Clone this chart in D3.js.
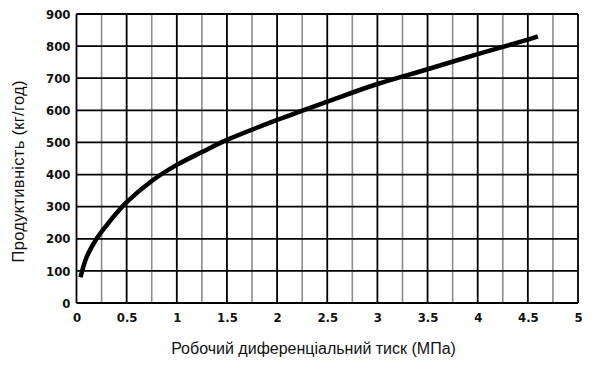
<!DOCTYPE html>
<html><head><meta charset="utf-8">
<script src="https://cdn.jsdelivr.net/npm/d3@7"></script>
<style>body{margin:0;background:#fff}</style>
</head><body>
<svg id="c" width="600" height="367"></svg>
<script>
const pressure = [0.04, 0.1, 0.2, 0.3, 0.4, 0.5, 0.75, 1, 1.25, 1.5, 2, 2.5, 3, 3.5, 4, 4.5, 4.6];
const output = [80, 142, 200, 242, 280, 314, 380, 430, 470, 508, 570, 627, 682, 728, 775, 820, 830];
const xTicks = [0, 0.5, 1, 1.5, 2, 2.5, 3, 3.5, 4, 4.5, 5];
const xMinor = [0.25, 0.75, 1.25, 1.75, 2.25, 2.75, 3.25, 3.75, 4.25, 4.75];
const yTicks = [0, 100, 200, 300, 400, 500, 600, 700, 800, 900];
const xTitle = "Робочий диференціальний тиск (МПа)";
const yTitle = "Продуктивність (кг/год)";

const svg = d3.select("#c");
const L = 76.5, R = 578, T = 14, B = 303;
const x = d3.scaleLinear().domain([0, 5]).range([L, R]);
const y = d3.scaleLinear().domain([0, 900]).range([B, T]);
const tickFont = "'Liberation Sans Narrow','Arial Narrow','DejaVu Sans Condensed',sans-serif";

svg.append("g").selectAll("line").data(xMinor).join("line")
  .attr("x1", d => x(d)).attr("x2", d => x(d)).attr("y1", T).attr("y2", B)
  .attr("stroke", "#8c8c8c").attr("stroke-width", 1.6);
svg.append("g").selectAll("line").data(xTicks).join("line")
  .attr("x1", d => x(d)).attr("x2", d => x(d)).attr("y1", T).attr("y2", B)
  .attr("stroke", "#000").attr("stroke-width", 1.8);
svg.append("g").selectAll("line").data(yTicks).join("line")
  .attr("x1", L).attr("x2", R).attr("y1", d => y(d)).attr("y2", d => y(d))
  .attr("stroke", "#000").attr("stroke-width", 1.8);

const xAxis = svg.append("g").attr("transform", `translate(0,${B})`)
  .call(d3.axisBottom(x).tickValues(xTicks).tickSize(0).tickPadding(10).tickFormat(d => String(d)));
const yAxis = svg.append("g").attr("transform", `translate(${L},0)`)
  .call(d3.axisLeft(y).tickValues(yTicks).tickSize(0).tickPadding(6).tickFormat(d => String(d)));
[xAxis, yAxis].forEach(a => {
  a.select(".domain").remove();
  a.selectAll("text").attr("font-family", tickFont).attr("font-size", 13)
    .attr("font-weight", "bold").attr("fill", "#111");
});

svg.append("path").datum(pressure.map((p, i) => [p, output[i]]))
  .attr("fill", "none").attr("stroke", "#000").attr("stroke-width", 4.5)
  .attr("stroke-linecap", "butt")
  .attr("d", d3.line().x(d => x(d[0])).y(d => y(d[1])).curve(d3.curveCatmullRom.alpha(0.5)));

svg.append("text").attr("x", 313.5).attr("y", 354).attr("text-anchor", "middle")
  .attr("font-family", "'Liberation Sans',Arial,sans-serif").attr("font-size", 16).attr("fill", "#111")
  .text(xTitle);
svg.append("text").attr("transform", "translate(24,171.5) rotate(-90)").attr("text-anchor", "middle")
  .attr("font-family", "'Liberation Sans',Arial,sans-serif").attr("font-size", 16.5).attr("fill", "#111")
  .attr("textLength", 182).attr("lengthAdjust", "spacing")
  .text(yTitle);
</script>
</body></html>
